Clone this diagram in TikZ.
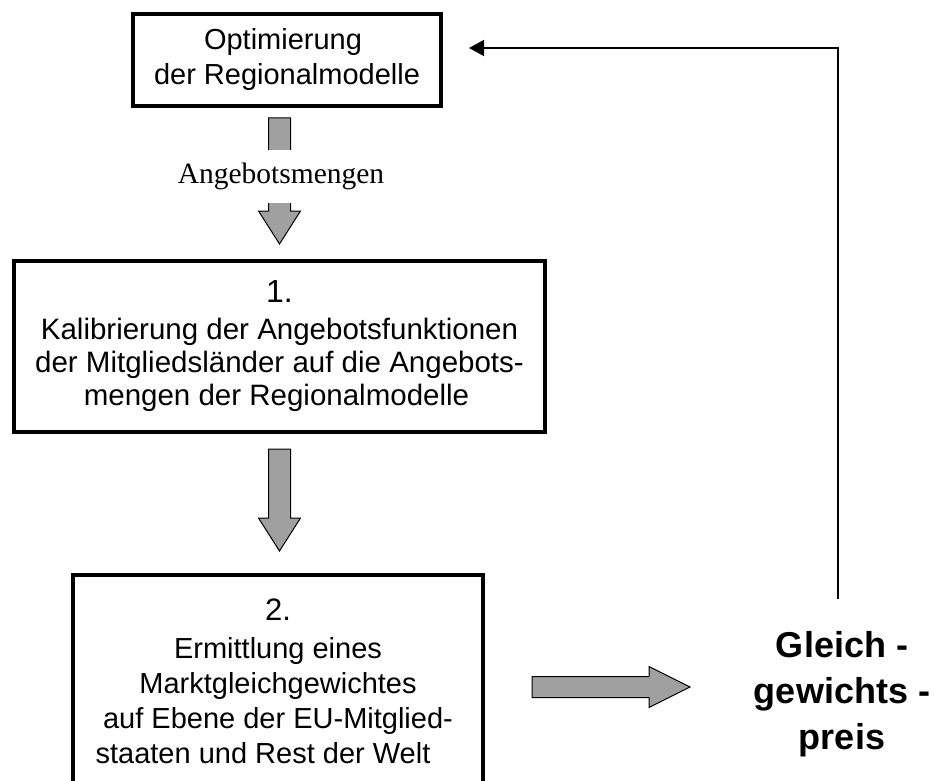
\documentclass[tikz,border=0pt]{standalone}
\usepackage{fontspec}
\setmainfont{Liberation Sans}
\newfontfamily\serifface{Liberation Serif}
\usetikzlibrary{calc,arrows.meta}

\definecolor{arrowgray}{RGB}{160,160,160}

% block arrow pointing down: #1 start point, #2 tip point
\newcommand{\blockdown}[2]{%
  \filldraw[blockarrow] let \p1=(#1), \p2=(#2) in
    (\x1-11pt,\y1) -- (\x1+11pt,\y1) -- (\x1+11pt,\y2+33pt) -- (\x1+21pt,\y2+33pt)
    -- (\x1,\y2) -- (\x1-21pt,\y2+33pt) -- (\x1-11pt,\y2+33pt) -- cycle;}
% block arrow pointing right: #1 start point, #2 tip point
\newcommand{\blockright}[2]{%
  \filldraw[blockarrow] let \p1=(#1), \p2=(#2) in
    (\x1,\y1+10.5pt) -- (\x1,\y1-10.5pt) -- (\x2-41pt,\y1-10.5pt) -- (\x2-41pt,\y1-20.5pt)
    -- (\x2,\y1) -- (\x2-41pt,\y1+20.5pt) -- (\x2-41pt,\y1+10.5pt) -- cycle;}

\tikzset{
  stagebox/.style={draw, line width=4pt, align=center, inner sep=0pt,
    font=\fontsize{29}{35}\selectfont},
  blockarrow/.style={fill=arrowgray, draw=black, line width=1pt, line join=miter},
  flowlabel/.style={fill=white, inner xsep=2pt, inner ysep=0pt, minimum height=53pt,
    font=\serifface\fontsize{29.5}{34}\selectfont},
  pricetext/.style={align=center, font=\bfseries\fontsize{36}{46}\selectfont},
  feedback/.style={line width=1.5pt, -{Triangle[length=15pt,width=16pt]}}
}

\begin{document}
\begin{tikzpicture}[x=1pt,y=-1pt]
\useasboundingbox (0,0) rectangle (934,781);
\begin{scope}
\clip (0,0) rectangle (934,781);

% stages
\node[stagebox, minimum width=308pt, minimum height=92pt] (opt) at (287,60)
  {Optimierung\hspace*{8pt}\\der Regionalmodelle};
\node[stagebox, minimum width=531pt, minimum height=171pt,
      font=\fontsize{29.5}{33}\selectfont] (calib) at (279.5,346.5)
  {{\fontsize{32}{33}\selectfont 1.}\\[4pt]
   Kalibrierung der Angebotsfunktionen\hspace*{14pt}\\
   der Mitgliedsländer auf die Angebots-\hspace*{6pt}\\
   mengen der Regionalmodelle\hspace*{6pt}};
\node[stagebox, minimum width=410pt, minimum height=212pt] (market) at (278,681)
  {{\fontsize{31}{35}\selectfont 2.}\\[3pt]
   Ermittlung eines\\
   Marktgleichgewichtes\\
   auf Ebene der EU-Mitglied-\hspace*{34pt}\\
   staaten und Rest der Welt\hspace*{30pt}};

% result
\node[pricetext] (price) at (842,694) {Gleich -\\gewichts -\\preis};

% connector end points
\coordinate (a1s) at ($(calib.north |- opt.south)+(0,10)$);
\coordinate (a1t) at ($(calib.north)+(0,-15)$);
\coordinate (a2s) at ($(calib.south)+(0,15)$);
\coordinate (a2t) at ($(market.north)+(0,-22)$);
\coordinate (a3s) at ($(market.east)+(47,6)$);
\coordinate (a3t) at ($(a3s)+(158,0)$);
\coordinate (fbs) at ($(price.center)+(-4,-95)$);
\coordinate (fbt) at ($(opt.east)+(26,-12)$);

% flow arrows
\blockdown{a1s}{a1t}
\node[flowlabel] (qty) at (281,176) {Angebotsmengen};
\blockdown{a2s}{a2t}
\blockright{a3s}{a3t}

% feedback of the equilibrium price
\draw[feedback] (fbs) -- (fbs |- fbt) -- (fbt);
\end{scope}
\end{tikzpicture}
\end{document}
